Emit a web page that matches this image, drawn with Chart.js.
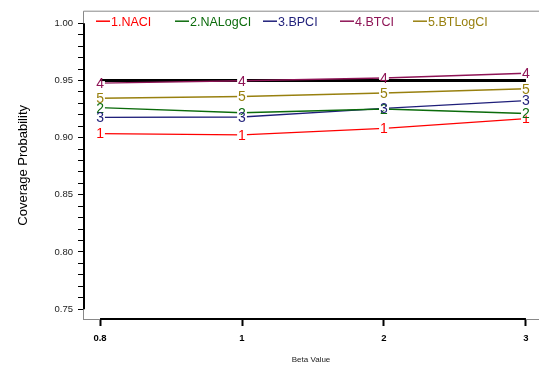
<!DOCTYPE html>
<html>
<head>
<meta charset="utf-8">
<script src="https://cdn.jsdelivr.net/npm/chart.js@4"></script>
<style>
  html, body { margin: 0; padding: 0; background: #fff; }
  #wrap { width: 539px; height: 366px; position: relative; }
</style>
</head>
<body>
<div id="wrap"><canvas id="chart"></canvas></div>
<script>
// データ
const betaLabels = ['0.8', '1', '2', '3'];
const betaIndex = [0, 1, 2, 3];
const seriesNames = ['1.NACI', '2.NALogCI', '3.BPCI', '4.BTCI', '5.BTLogCI'];
const seriesMarks = ['1', '2', '3', '4', '5'];
const naci = [0.9035, 0.9024, 0.9081, 0.9166];
const naLogCi = [0.9262, 0.9217, 0.9250, 0.9211];
const bpci = [0.9177, 0.9180, 0.9256, 0.9324];
const btci = [0.9477, 0.9497, 0.9522, 0.9563];
const btLogCi = [0.9344, 0.9360, 0.9390, 0.9427];
const nominal = [0.95, 0.95, 0.95, 0.95];
const yTickValues = [0.75, 0.80, 0.85, 0.90, 0.95, 1.00];

const colors = ['#ff0000', '#0b6b0b', '#1f1f7a', '#8e1456', '#98800f'];
const seriesData = [naci, naLogCi, bpci, btci, btLogCi];

const datasets = seriesData.map((vals, i) => ({
    label: seriesNames[i],
    mark: seriesMarks[i],
    data: vals.map((v, j) => ({ x: betaIndex[j], y: v })),
    borderColor: colors[i],
    backgroundColor: colors[i],
    borderWidth: 1.4,
    pointRadius: 0,
    tension: 0
}));
// 0.95の基準線
datasets.push({
    label: 'nominal',
    data: nominal.map((v, j) => ({ x: betaIndex[j], y: v })),
    borderColor: '#000',
    borderWidth: 3,
    pointRadius: 0,
    tension: 0
});

// 数字マーカー・枠・凡例を描くプラグイン
const decorPlugin = {
    id: 'decor',
    beforeDatasetsDraw(chart) {
        const { ctx, chartArea, scales } = chart;
        const x = scales.x, y = scales.y;
        ctx.save();
        // 灰色の枠
        ctx.strokeStyle = '#888';
        ctx.lineWidth = 1;
        ctx.beginPath();
        ctx.moveTo(chartArea.left + 0.5, chartArea.bottom);
        ctx.lineTo(chartArea.left + 0.5, chartArea.top + 0.5);
        ctx.lineTo(chartArea.right, chartArea.top + 0.5);
        ctx.moveTo(chartArea.left, chartArea.bottom - 0.5);
        ctx.lineTo(chartArea.right, chartArea.bottom - 0.5);
        ctx.stroke();
        // 黒い軸線
        ctx.strokeStyle = '#000';
        ctx.lineWidth = 2;
        ctx.beginPath();
        ctx.moveTo(chartArea.left + 1, y.getPixelForValue(1.0));
        ctx.lineTo(chartArea.left + 1, y.getPixelForValue(0.75));
        ctx.moveTo(x.getPixelForValue(0), chartArea.bottom - 1);
        ctx.lineTo(x.getPixelForValue(3), chartArea.bottom - 1);
        ctx.stroke();
        ctx.restore();
    },
    afterDatasetsDraw(chart) {
        const { ctx, chartArea } = chart;
        ctx.save();
        ctx.font = '14px "Liberation Sans", Arial, sans-serif';
        ctx.textAlign = 'center';
        ctx.textBaseline = 'middle';
        chart.data.datasets.forEach((ds, i) => {
            if (!ds.mark) return;
            const meta = chart.getDatasetMeta(i);
            meta.data.forEach(pt => {
                const w = ctx.measureText(ds.mark).width;
                ctx.fillStyle = '#fff';
                ctx.fillRect(pt.x - w / 2 - 1, pt.y - 2, w + 2, 4);
                ctx.fillStyle = ds.borderColor;
                ctx.fillText(ds.mark, pt.x, pt.y + 1);
            });
        });
        // 凡例
        ctx.font = '12.5px "Liberation Sans", Arial, sans-serif';
        ctx.textAlign = 'left';
        const legendX = [96, 175, 263, 340, 413];
        const ly = chartArea.top + 10.5;
        seriesNames.forEach((name, i) => {
            ctx.strokeStyle = colors[i];
            ctx.lineWidth = 1.5;
            ctx.beginPath();
            ctx.moveTo(legendX[i], ly);
            ctx.lineTo(legendX[i] + 14, ly);
            ctx.stroke();
            ctx.fillStyle = colors[i];
            ctx.fillText(name, legendX[i] + 15, ly + 1);
        });
        ctx.restore();
    }
};

new Chart(document.getElementById('chart'), {
    type: 'line',
    data: { datasets },
    options: {
        responsive: true,
        maintainAspectRatio: false,
        animation: false,
        layout: { padding: { top: 8, right: 0, left: 0, bottom: 0 } },
        plugins: { legend: { display: false }, tooltip: { enabled: false } },
        scales: {
            x: {
                type: 'linear',
                min: -0.12,
                max: 3.092,
                afterBuildTicks: s => { s.ticks = betaIndex.map(v => ({ value: v })); },
                afterFit: s => { s.height = 46; },
                border: { display: false },
                grid: { drawOnChartArea: false, tickLength: 6, color: '#000', tickWidth: 2 },
                ticks: {
                    callback: (v) => betaLabels[betaIndex.indexOf(v)],
                    color: '#000',
                    font: { family: '"Liberation Sans", Arial', size: 9.5, weight: 'bold' },
                    padding: 7,
                    maxRotation: 0
                },
                title: {
                    display: true,
                    text: 'Beta Value',
                    color: '#222',
                    font: { family: '"Liberation Sans", Arial', size: 8 },
                    padding: { top: 0, bottom: 1 }
                }
            },
            y: {
                min: 0.7405,
                max: 1.011,
                afterBuildTicks: s => {
                    const t = [];
                    for (let k = 75; k <= 100; k++) t.push({ value: k / 100 });
                    s.ticks = t;
                },
                afterFit: s => { s.width = 83; },
                border: { display: false },
                grid: { drawOnChartArea: false, tickLength: 5, color: '#000', tickWidth: 1 },
                ticks: {
                    callback: (v) => {
                        const r = Math.round(v * 100) / 100;
                        return yTickValues.some(t => Math.abs(t - r) < 1e-9) ? r.toFixed(2) : '';
                    },
                    color: '#222',
                    font: { family: '"Liberation Sans", Arial', size: 9.5 },
                    padding: 5,
                    autoSkip: false
                },
                title: {
                    display: true,
                    text: 'Coverage Probability',
                    color: '#000',
                    font: { family: '"Liberation Sans", Arial', size: 13 },
                    padding: { top: 16, bottom: 0 }
                }
            }
        }
    },
    plugins: [decorPlugin]
});
</script>
</body>
</html>
